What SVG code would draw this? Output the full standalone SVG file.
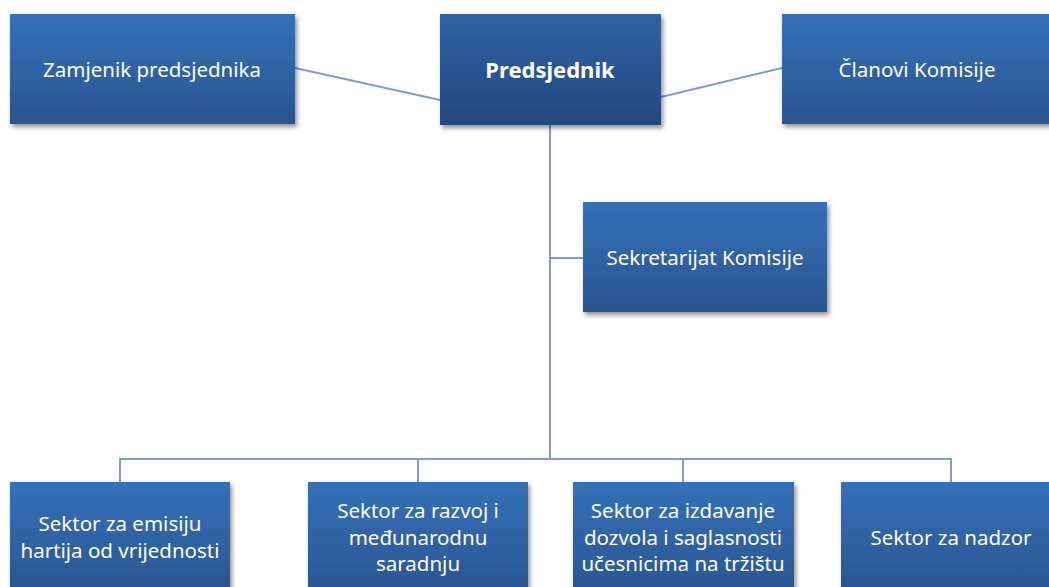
<svg xmlns="http://www.w3.org/2000/svg" width="1049" height="587" viewBox="0 0 1049 587">
<defs>
<linearGradient id="g" x1="0" y1="0" x2="0" y2="1">
<stop offset="0" stop-color="#3471ba"/>
<stop offset="1" stop-color="#2a5590"/>
</linearGradient>
<linearGradient id="gd" x1="0" y1="0" x2="0" y2="1">
<stop offset="0" stop-color="#2f63a4"/>
<stop offset="1" stop-color="#22497f"/>
</linearGradient>
<filter id="sh" x="-10%" y="-10%" width="125%" height="130%">
<feGaussianBlur in="SourceAlpha" stdDeviation="2.5"/>
<feOffset dx="2" dy="3" result="b"/>
<feComponentTransfer><feFuncA type="linear" slope="0.45"/></feComponentTransfer>
<feMerge><feMergeNode/><feMergeNode in="SourceGraphic"/></feMerge>
</filter>
</defs>
<style>
.box{fill:url(#g);filter:url(#sh)}
.boss{fill:url(#gd);filter:url(#sh)}
.t{font-family:"Noto Sans","Open Sans","Liberation Sans",sans-serif;font-size:20.5px;fill:#ffffff;text-anchor:middle;dominant-baseline:central}
.b{font-weight:bold;font-size:22px}
.c{fill:none;stroke:#7f9ccd;stroke-width:2}
</style>
<rect width="1049" height="587" fill="#ffffff"/>
<g id="connectors">
<line class="c" x1="295" y1="68" x2="440" y2="100"/>
<line class="c" x1="661" y1="97" x2="782" y2="68"/>
<line class="c" x1="550" y1="125" x2="550" y2="459"/>
<line class="c" x1="550" y1="258" x2="583" y2="258"/>
<polyline class="c" points="120,482 120,459 951,459 951,482"/>
<line class="c" x1="418" y1="459" x2="418" y2="482"/>
<line class="c" x1="683" y1="459" x2="683" y2="482"/>
</g>
<g id="zamjenik">
<rect class="box" x="10" y="14" width="285" height="110"/>
<text class="t" x="152" y="69">Zamjenik predsjednika</text>
</g>
<g id="predsjednik">
<rect class="boss" x="440" y="14" width="221" height="111"/>
<text class="t b" x="550" y="69">Predsjednik</text>
</g>
<g id="clanovi">
<rect class="box" x="782" y="14" width="272" height="110"/>
<text class="t" x="917" y="69">Članovi Komisije</text>
</g>
<g id="sekretarijat">
<rect class="box" x="583" y="202" width="244" height="110"/>
<text class="t" x="705" y="257">Sekretarijat Komisije</text>
</g>
<g id="emisija">
<rect class="box" x="10" y="482" width="220" height="112"/>
<text class="t" x="120" y="523">Sektor za emisiju</text>
<text class="t" x="120" y="550">hartija od vrijednosti</text>
</g>
<g id="razvoj">
<rect class="box" x="308" y="482" width="220" height="112"/>
<text class="t" x="418" y="510">Sektor za razvoj i</text>
<text class="t" x="418" y="537">međunarodnu</text>
<text class="t" x="418" y="563">saradnju</text>
</g>
<g id="dozvole">
<rect class="box" x="573" y="482" width="221" height="112"/>
<text class="t" x="683" y="510">Sektor za izdavanje</text>
<text class="t" x="683" y="537">dozvola i saglasnosti</text>
<text class="t" x="683" y="563">učesnicima na tržištu</text>
</g>
<g id="nadzor">
<rect class="box" x="841" y="482" width="220" height="112"/>
<text class="t" x="951" y="537">Sektor za nadzor</text>
</g>
</svg>
